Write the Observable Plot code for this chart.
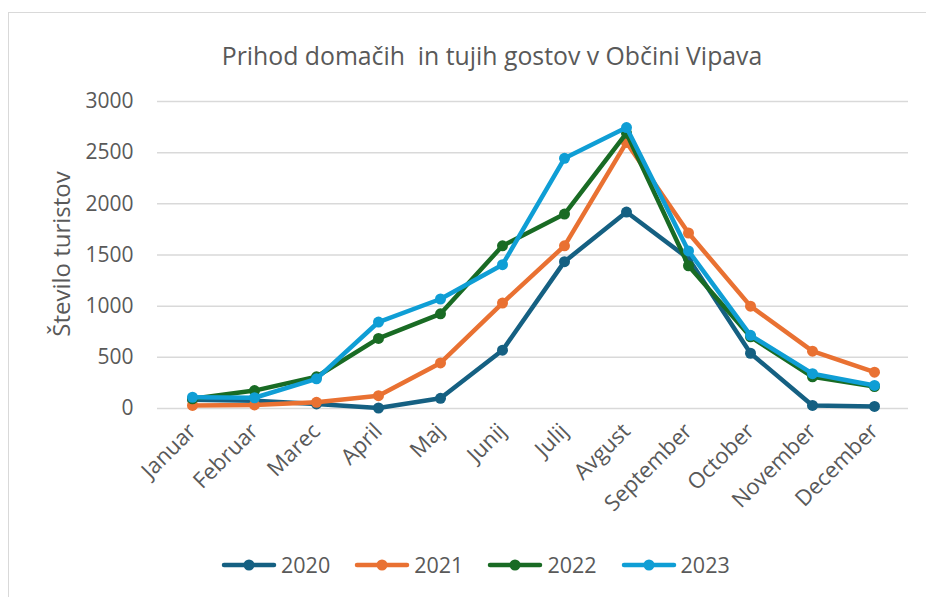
<!DOCTYPE html>
<html><head><meta charset="utf-8">
<script src="https://cdn.jsdelivr.net/npm/d3@7"></script>
<script src="https://cdn.jsdelivr.net/npm/@observablehq/plot@0.6"></script>
<style>
body{margin:0;background:#fff;}
#wrap{position:relative;width:926px;height:597px;overflow:hidden;font-family:"Open Sans",sans-serif;color:#595959;}
#frame{position:absolute;left:8px;top:12px;width:960px;height:640px;border:1.5px solid #d9d9d9;box-sizing:border-box;}
#chart{position:absolute;left:0;top:0;}
#title{position:absolute;top:38px;left:29px;width:926px;text-align:center;font-size:24.8px;line-height:34px;}
#ylab{position:absolute;left:60px;top:254px;transform:translate(-50%,-50%) rotate(-90deg);font-size:24px;white-space:nowrap;}
#legend{position:absolute;top:550px;left:221px;display:flex;align-items:center;font-size:21.5px;line-height:30px;}
.item{display:flex;align-items:center;margin-right:24px;}
.item svg{margin-right:4px;}
</style>
</head><body>
<div id="wrap">
  <div id="frame"></div>
  <div id="chart"></div>
  <div id="title">Prihod domačih&nbsp; in tujih gostov v Občini Vipava</div>
  <div id="ylab">Število turistov</div>
  <div id="legend"></div>
</div>
<script>
const months = ["Januar","Februar","Marec","April","Maj","Junij","Julij","Avgust","September","October","November","December"];
const years = ["2020","2021","2022","2023"];
const v2020 = [85, 75, 45, 5, 100, 570, 1435, 1920, 1465, 540, 30, 20];
const v2021 = [30, 35, 60, 125, 445, 1030, 1590, 2600, 1715, 1000, 560, 355];
const v2022 = [95, 175, 310, 685, 925, 1590, 1900, 2690, 1395, 700, 310, 215];
const v2023 = [110, 105, 290, 845, 1070, 1405, 2445, 2745, 1540, 715, 340, 225];
const yTicks = [0, 500, 1000, 1500, 2000, 2500, 3000];
const colors = ["#156082", "#E97132", "#196B24", "#0F9ED5"];

const seriesValues = [v2020, v2021, v2022, v2023];
const series = years.map((yr, k) => months.map((m, i) => ({month: m, value: seriesValues[k][i], year: yr})));

const marks = [
  Plot.ruleY(yTicks, {stroke: "#d9d9d9", strokeWidth: 1.5}),
  Plot.axisY({ticks: yTicks, tickFormat: d => String(d), tickSize: 0, tickPadding: 24, label: null, fontSize: 21, color: "#595959"}),
  Plot.axisX({tickRotate: -45, tickSize: 0, tickPadding: 19, label: null, fontSize: 22, color: "#595959"})
];
series.forEach((d, k) => {
  marks.push(Plot.line(d, {x: "month", y: "value", stroke: colors[k], strokeWidth: 4.5, strokeLinejoin: "round", strokeLinecap: "round"}));
  marks.push(Plot.dot(d, {x: "month", y: "value", fill: colors[k], r: 5.5}));
});

const chart = Plot.plot({
  width: 926,
  height: 597,
  marginLeft: 157,
  marginRight: 18,
  marginTop: 101,
  marginBottom: 189,
  style: {fontFamily: "'Open Sans', sans-serif", background: "transparent", color: "#595959"},
  x: {type: "point", domain: months, padding: 0.5},
  y: {domain: [0, 3000]},
  marks
});
document.getElementById("chart").appendChild(chart);

const legend = document.getElementById("legend");
years.forEach((yr, k) => {
  const it = document.createElement("div");
  it.className = "item";
  it.innerHTML = `<svg width="56" height="14"><line x1="3" y1="7" x2="53" y2="7" stroke="${colors[k]}" stroke-width="4.5" stroke-linecap="round"/><circle cx="28" cy="7" r="5.5" fill="${colors[k]}"/></svg><span>${yr}</span>`;
  legend.appendChild(it);
});
</script>
</body></html>
